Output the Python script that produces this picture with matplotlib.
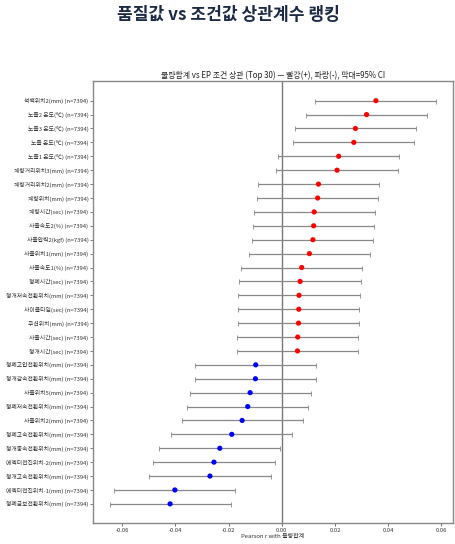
import numpy as np
import matplotlib
matplotlib.use("Agg")
import matplotlib.pyplot as plt

plt.rcParams['font.family'] = ['Noto Sans CJK KR', 'DejaVu Sans']
plt.rcParams['axes.unicode_minus'] = False

# top to bottom as drawn
features = [
    '석백위치2(mm)', '노즐2 온도(℃)', '노즐3 온도(℃)', '노즐 온도(℃)', '노즐1 온도(℃)',
    '계량거리위치3(mm)', '계량거리위치2(mm)', '계량위치(mm)', '계량시간(sec)', '사출속도2(%)',
    '사출압력2(kgf)', '사출위치1(mm)', '사출속도1(%)', '형폐시간(sec)', '형개저속전환위치(mm)',
    '사이클타임(sec)', '쿠션위치(mm)', '사출시간(sec)', '형개시간(sec)', '형폐고압전환위치(mm)',
    '형개감속전환위치(mm)', '사출위치5(mm)', '형폐저속전환위치(mm)', '사출위치2(mm)', '형폐고속전환위치(mm)',
    '형개중속전환위치(mm)', '에젝터전진위치-2(mm)', '형개고속전환위치(mm)', '에젝터전진위치-1(mm)', '형폐금보전환위치(mm)',
]
r_values = [
    0.0354, 0.0319, 0.0277, 0.0271, 0.0214,
    0.0208, 0.0138, 0.0135, 0.0122, 0.0120,
    0.0117, 0.0104, 0.0075, 0.0069, 0.0065,
    0.0064, 0.0063, 0.0060, 0.0059, -0.0098,
    -0.0099, -0.0119, -0.0128, -0.0149, -0.0188,
    -0.0233, -0.0255, -0.0270, -0.0402, -0.0420,
]
n_obs = [7394] * 30

r = np.array(r_values)
n = np.array(n_obs)
# 95% CI via Fisher z
z = np.arctanh(r)
se = 1.0 / np.sqrt(n - 3)
lo = np.tanh(z - 1.96 * se)
hi = np.tanh(z + 1.96 * se)

labels = [f'{f} (n={k})' for f, k in zip(features, n_obs)]
y = np.arange(len(r))[::-1]

fig = plt.figure(figsize=(4.56, 5.44), dpi=100)
ax = fig.add_axes([0.2046, 0.038, 0.7882, 0.8137])

ax.errorbar(r, y, xerr=[r - lo, hi - r], fmt='none', ecolor='#888888',
            elinewidth=0.9, capsize=1.8, capthick=0.6, zorder=1)
colors = ['red' if v > 0 else 'blue' for v in r]
ax.scatter(r, y, c=colors, s=14, zorder=3, linewidths=0)
ax.axvline(0, color='#777777', lw=1.0, zorder=0)

ax.set_yticks(y)
ax.set_yticklabels(labels, fontsize=4.2, color='#333333')
ax.set_ylim(-1.4, len(r) - 1 + 1.44)
ax.set_xticks([-0.06, -0.04, -0.02, 0.0, 0.02, 0.04, 0.06])
ax.set_xticklabels(['-0.06', '-0.04', '-0.02', '0.00', '0.02', '0.04', '0.06'])
ax.tick_params(axis='x', labelsize=4.2, colors='#555555', labelcolor='#333333',
               length=2, width=0.6, pad=1.2)
ax.tick_params(axis='y', length=2, width=0.6, colors='#666666', labelcolor='#333333', pad=1.5)
ax.set_xlabel('Pearson r with 불량합계', fontsize=4.3, color='#333333', labelpad=0.5)
for s in ax.spines.values():
    s.set_color('#888888')
    s.set_linewidth(1.0)
ax.set_title('불량합계 vs EP 조건 상관 (Top 30) — 빨강(+), 파랑(-), 막대=95% CI',
             fontsize=5.7, color='#222222', pad=2)

fig.text(0.5, 1 - 15 / 544, '품질값 vs 조건값 상관계수 랭킹', fontsize=12.3,
         fontweight='heavy', color='#1c2a45', ha='center', va='center')

fig.savefig('out.png', dpi=100)
